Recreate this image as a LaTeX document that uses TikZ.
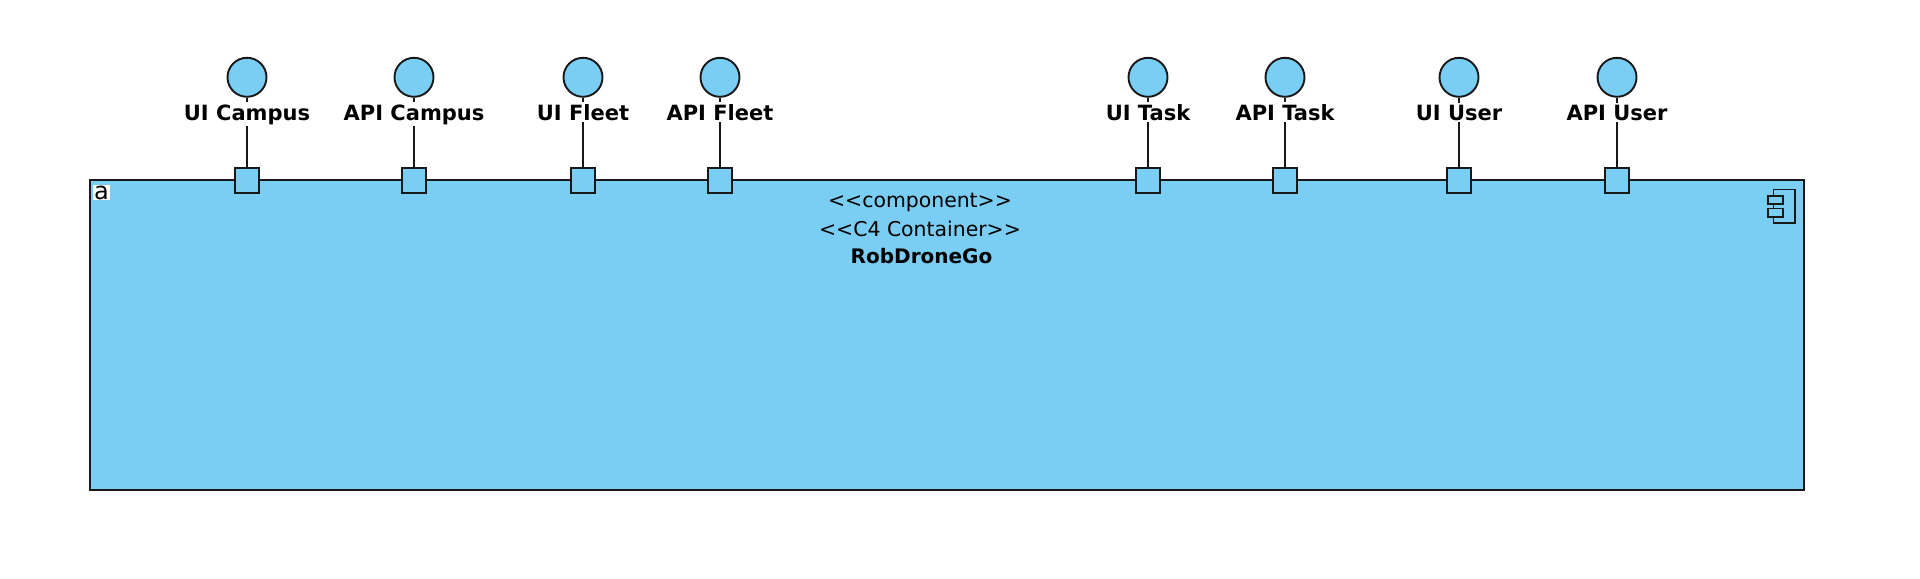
\documentclass[tikz,border=0pt]{standalone}
\usepackage{fontspec}
\setmainfont{DejaVu Sans}
\definecolor{compblue}{HTML}{7ACEF4}
\definecolor{edgec}{HTML}{181818}
\begin{document}
\begin{tikzpicture}[x=0.5pt,y=-0.5pt,
  iface/.style={circle,draw=edgec,fill=compblue,line width=0.95pt,minimum size=19.5pt,inner sep=0pt},
  port/.style={rectangle,draw=edgec,fill=compblue,line width=0.95pt,minimum size=12.25pt,inner sep=0pt},
  lbl/.style={anchor=base,fill=white,inner sep=1pt,font=\fontsize{10.5pt}{12pt}\selectfont\bfseries},
  stereo/.style={anchor=base,inner sep=0pt,font=\fontsize{10.2pt}{12pt}\selectfont},
  link/.style={draw=edgec,line width=0.95pt},
  iconpart/.style={draw=edgec,fill=compblue,line width=0.95pt}]
\useasboundingbox (0,0) rectangle (1920,578);
\node[draw=edgec,fill=compblue,line width=1pt,minimum width=857pt,minimum height=155pt,inner sep=0pt] (rdg) at (947,335) {};
\node[anchor=base,fill=white,inner sep=0.4pt,font=\fontsize{12pt}{12pt}\selectfont] (aicon) at (101.5,199) {a};
\node[stereo] (st1) at (920,207) {<{}<component>{}>};
\node[stereo] (st2) at (920,236) {<{}<C4 Container>{}>};
\node[stereo,font=\fontsize{10pt}{12pt}\selectfont\bfseries] (nm) at (921.5,263.3) {RobDroneGo};
% component icon
\draw[iconpart] (1773.5,189.5) rectangle (1795,223);
\draw[iconpart] (1768,196.2) rectangle (1782.7,204.3);
\draw[iconpart] (1768,208.5) rectangle (1782.7,216.7);
\foreach \x/\n/\t in {247/uic/UI Campus,414/apic/API Campus,583/uif/UI Fleet,720/apif/API Fleet,1148/uit/UI Task,1285/apit/API Task,1459/uiu/UI User,1617/apiu/API User} {
  \node[iface] (c\n) at (\x,77.3) {};
  \node[port] (p\n) at (\x,180.5) {};
  \draw[link] (c\n) -- (p\n);
  \node[lbl] (l\n) at (\x,120) {\t};
}
\end{tikzpicture}
\end{document}
